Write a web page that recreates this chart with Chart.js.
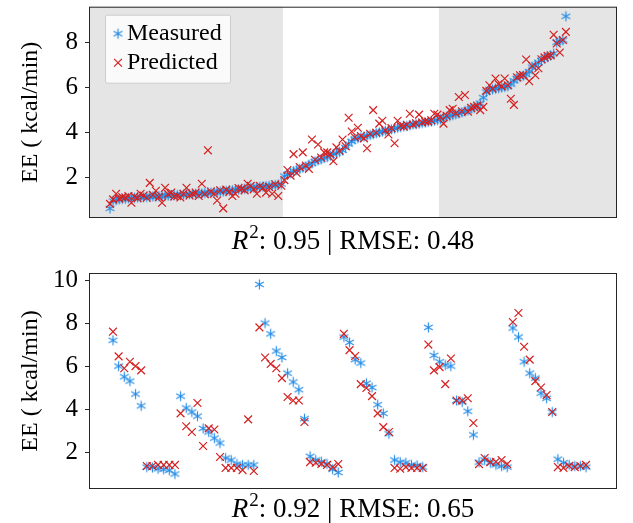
<!DOCTYPE html>
<html>
<head>
<meta charset="utf-8">
<script src="https://cdn.jsdelivr.net/npm/chart.js@4/dist/chart.umd.min.js"></script>
<style>
  html, body { margin: 0; padding: 0; background: #fff; }
  #wrap { position: relative; width: 633px; height: 523px; }
  canvas { position: absolute; left: 0; }
  #top-chart { top: 0; }
  #bottom-chart { top: 262px; }
</style>
</head>
<body>
<div id="wrap">
  <canvas id="top-chart" width="633" height="262"></canvas>
  <canvas id="bottom-chart" width="633" height="261"></canvas>
</div>
<script>
// top panel: samples sorted by measured EE
const topMeasured = [
  0.65, 0.98, 1.02, 1.05, 1.07, 1.08, 1.10, 1.10, 1.12, 1.13,
  1.14, 1.15, 1.16, 1.17, 1.18, 1.18, 1.19, 1.20, 1.21, 1.22,
  1.22, 1.23, 1.24, 1.25, 1.26, 1.27, 1.28, 1.29, 1.30, 1.31,
  1.32, 1.33, 1.34, 1.35, 1.36, 1.38, 1.39, 1.40, 1.42, 1.43,
  1.45, 1.47, 1.49, 1.51, 1.52, 1.54, 1.56, 1.57, 1.59, 1.60,
  1.62, 1.63, 1.65, 1.66, 1.68, 1.70, 1.73, 2.08, 2.15, 2.22,
  2.30, 2.35, 2.40, 2.45, 2.50, 2.58, 2.65, 2.72, 2.78, 2.82,
  2.88, 2.92, 2.98, 3.05, 3.10, 3.15, 3.22, 3.35, 3.50, 3.62,
  3.72, 3.76, 3.80, 3.83, 3.86, 3.90, 3.94, 3.98, 4.02, 4.05,
  4.08, 4.12, 4.15, 4.18, 4.22, 4.25, 4.28, 4.30, 4.33, 4.36,
  4.38, 4.40, 4.43, 4.45, 4.48, 4.50, 4.53, 4.56, 4.60, 4.65,
  4.70, 4.74, 4.78, 4.82, 4.86, 4.90, 4.95, 5.00, 5.05, 5.10,
  5.18, 5.30, 5.55, 5.80, 5.90, 5.92, 5.95, 5.97, 6.00, 6.03,
  6.06, 6.15, 6.30, 6.40, 6.48, 6.52, 6.58, 6.70, 6.90, 7.00,
  7.10, 7.20, 7.28, 7.35, 7.42, 7.50, 8.00, 8.05, 8.10, 9.15
];
const topPredicted = [
  0.85, 1.05, 1.30, 1.08, 1.15, 1.13, 1.20, 0.90, 1.18, 1.10,
  1.30, 1.22, 1.12, 1.78, 1.25, 1.43, 1.15, 0.90, 1.56, 1.28,
  1.35, 1.18, 1.20, 1.13, 1.30, 1.56, 1.22, 1.30, 1.35, 1.20,
  1.74, 1.28, 3.22, 1.40, 1.30, 1.00, 1.45, 0.65, 1.48, 1.38,
  1.20, 1.30, 1.55, 1.52, 1.45, 1.74, 1.65, 1.50, 1.30, 1.64,
  1.56, 1.35, 1.60, 1.30, 1.72, 1.20, 1.65, 1.90, 2.35, 2.10,
  3.05, 2.22, 2.48, 3.13, 2.55, 2.40, 3.70, 2.80, 3.48, 2.90,
  3.13, 3.13, 3.05, 2.74, 3.35, 3.20, 3.70, 3.40, 4.66, 4.05,
  3.80, 4.22, 3.85, 3.75, 3.31, 3.95, 5.00, 4.00, 4.40, 4.53,
  4.10, 3.92, 4.20, 3.53, 4.53, 4.30, 4.27, 4.35, 4.84, 4.36,
  4.42, 4.80, 4.45, 4.50, 4.49, 4.55, 4.84, 4.80, 4.70, 4.40,
  4.75, 5.00, 5.06, 4.85, 5.58, 4.95, 5.67, 4.93, 5.10, 5.14,
  5.20, 5.00, 5.14, 5.85, 6.10, 5.95, 6.40, 6.15, 6.05, 6.40,
  6.10, 5.50, 5.23, 6.45, 6.54, 6.55, 7.24, 6.28, 6.95, 6.54,
  6.85, 7.25, 7.33, 7.40, 7.42, 8.33, 7.95, 7.55, 8.10, 8.46
];
// shaded index ranges in the top panel
const topBands = [[-10, 56.5], [107.5, 170]];

// bottom panel: samples in recording order
const bottomMeasured = [
  7.20, 6.00, 5.50, 5.30, 4.70, 4.15,
  1.30, 1.28, 1.22, 1.20, 1.15, 0.98,
  4.60, 4.05, 3.86, 3.67, 3.10, 2.93, 2.65, 2.42,
  1.72, 1.63, 1.44, 1.40, 1.40, 1.40,
  9.80, 8.00, 7.50, 6.70, 6.40, 5.67, 5.26, 4.90, 3.55,
  1.80, 1.63, 1.55, 1.45, 1.20, 1.05,
  7.35, 7.10, 6.30, 6.14, 5.20, 5.00, 4.20, 3.80, 2.85,
  1.63, 1.53, 1.50, 1.40, 1.38, 1.30,
  7.80, 6.50, 6.20, 6.05, 6.00, 4.40, 4.33, 3.90, 2.80,
  1.53, 1.63, 1.50, 1.40, 1.35, 1.30,
  7.77, 7.35, 6.20, 5.67, 5.44, 4.74, 4.50, 3.86,
  1.67, 1.50, 1.40, 1.35, 1.35, 1.30
];
const bottomPredicted = [
  7.60, 6.45, 5.90, 6.20, 6.00, 5.80,
  1.35, 1.35, 1.40, 1.40, 1.40, 1.40,
  3.80, 3.20, 2.93, 4.28, 2.28, 3.10, 3.05, 1.77,
  1.26, 1.26, 1.26, 1.16, 3.52, 1.12,
  7.80, 6.40, 6.10, 5.90, 5.44, 4.56, 4.40, 4.40, 3.40,
  1.53, 1.50, 1.45, 1.40, 1.30, 1.44,
  7.50, 6.74, 6.47, 5.16, 4.98, 4.60, 3.80, 3.16, 2.93,
  1.26, 1.22, 1.30, 1.26, 1.26, 1.26,
  7.00, 5.80, 5.95, 5.16, 6.35, 4.40, 4.40, 4.50, 3.35,
  1.44, 1.72, 1.53, 1.55, 1.63, 1.44,
  8.05, 8.47, 6.90, 6.30, 5.30, 5.00, 4.65, 3.86,
  1.30, 1.26, 1.35, 1.30, 1.35, 1.40
];

const yTicks = [2, 4, 6, 8, 10];
const seriesNames = ["Measured", "Predicted"];
const r2Values = [0.95, 0.92];
const rmseValues = [0.48, 0.65];

const FONT = "'Liberation Serif', 'Times New Roman', serif";
const BLUE = "rgba(30, 136, 229, 0.95)";
const RED = "rgb(214, 32, 32)";
const PLOT_LEFT = 89;
const PLOT_RIGHT = 617;

function asteriskImage(color) {
  const c = document.createElement("canvas");
  c.width = 13;
  c.height = 13;
  const g = c.getContext("2d");
  g.strokeStyle = color;
  g.lineWidth = 1.2;
  g.translate(6.5, 6.5);
  for (let k = 0; k < 3; k++) {
    const a = Math.PI / 2 + (k * Math.PI) / 3;
    g.beginPath();
    g.moveTo(Math.cos(a) * 5, Math.sin(a) * 5);
    g.lineTo(-Math.cos(a) * 5, -Math.sin(a) * 5);
    g.stroke();
  }
  return c;
}
const asterisk = asteriskImage(BLUE);

function drawCross(ctx, x, y) {
  ctx.strokeStyle = RED;
  ctx.lineWidth = 1.2;
  ctx.beginPath();
  ctx.moveTo(x - 3.9, y - 3.9);
  ctx.lineTo(x + 3.9, y + 3.9);
  ctx.moveTo(x + 3.9, y - 3.9);
  ctx.lineTo(x - 3.9, y + 3.9);
  ctx.stroke();
}

function drawStatLabel(ctx, cx, baseline, r2, rmse) {
  const size = 27;
  const italic = `italic ${size}px ${FONT}`;
  const normal = `${size}px ${FONT}`;
  const sup = `${Math.round(size * 0.7)}px ${FONT}`;
  const rest = `: ${r2.toFixed(2)} | RMSE: ${rmse.toFixed(2)}`;
  ctx.font = italic;
  const wR = ctx.measureText("R").width;
  ctx.font = sup;
  const w2 = ctx.measureText("2").width;
  ctx.font = normal;
  const wRest = ctx.measureText(rest).width;
  let x = cx - (wR + w2 + 1 + wRest) / 2;
  ctx.fillStyle = "#000";
  ctx.textAlign = "left";
  ctx.textBaseline = "alphabetic";
  ctx.font = italic;
  ctx.fillText("R", x, baseline);
  x += wR + 1;
  ctx.font = sup;
  ctx.fillText("2", x, baseline - size * 0.4);
  x += w2;
  ctx.font = normal;
  ctx.fillText(rest, x, baseline);
}

const panelDecor = {
  id: "panelDecor",
  beforeDatasetsDraw(chart, args, opts) {
    const { ctx, chartArea: a, scales: { x } } = chart;
    ctx.save();
    ctx.fillStyle = "#e5e5e5";
    (opts.bands || []).forEach(([from, to]) => {
      const l = Math.max(x.getPixelForValue(from), a.left);
      const r = Math.min(x.getPixelForValue(to), a.right);
      ctx.fillRect(l, a.top, r - l, a.bottom - a.top);
    });
    ctx.restore();
  },
  afterDatasetsDraw(chart, args, opts) {
    const { ctx, chartArea: a } = chart;
    ctx.save();
    if (opts.legend) {
      const lx = a.left + 16, ly = a.top + 8;
      ctx.fillStyle = "rgba(255, 255, 255, 0.8)";
      ctx.strokeStyle = "#cccccc";
      ctx.lineWidth = 1;
      ctx.beginPath();
      ctx.roundRect(lx + 0.5, ly + 0.5, 125, 68, 2);
      ctx.fill();
      ctx.stroke();
      ctx.drawImage(asterisk, lx + 13 - 6.5, ly + 19 - 6.5);
      drawCross(ctx, lx + 13, ly + 48);
      ctx.fillStyle = "#000";
      ctx.font = `24px ${FONT}`;
      ctx.textBaseline = "middle";
      ctx.fillText(seriesNames[0], lx + 22, ly + 19);
      ctx.fillText(seriesNames[1], lx + 22, ly + 48);
    }
    ctx.strokeStyle = "#262626";
    ctx.lineWidth = 1;
    ctx.strokeRect(a.left + 0.5, a.top + 0.5, a.right - a.left - 1, a.bottom - a.top - 1);
    drawStatLabel(ctx, (a.left + a.right) / 2, a.bottom + opts.labelGap, opts.r2, opts.rmse);
    ctx.restore();
  },
};

function makePanel(canvasId, measured, predicted, xRange, yRange, pad, decor) {
  const toPoints = (arr) => arr.map((v, i) => ({ x: i, y: v }));
  return new Chart(document.getElementById(canvasId), {
    type: "scatter",
    data: {
      datasets: [
        {
          label: seriesNames[1],
          data: toPoints(predicted),
          pointStyle: "crossRot",
          pointRadius: 5.5,
          pointBorderWidth: 1.2,
          borderColor: RED,
          backgroundColor: RED,
        },
        {
          label: seriesNames[0],
          data: toPoints(measured),
          pointStyle: asterisk,
          pointRadius: 5,
          borderColor: BLUE,
          backgroundColor: BLUE,
        },
      ],
    },
    options: {
      responsive: false,
      animation: false,
      events: [],
      layout: { padding: { left: 0, right: 633 - PLOT_RIGHT, top: pad[0], bottom: pad[1] } },
      plugins: {
        legend: { display: false },
        tooltip: { enabled: false },
        panelDecor: decor,
      },
      scales: {
        x: { type: "linear", display: false, min: xRange[0], max: xRange[1] },
        y: {
          min: yRange[0],
          max: yRange[1],
          afterBuildTicks: (scale) => {
            scale.ticks = yTicks.filter((v) => v <= yRange[1]).map((v) => ({ value: v }));
          },
          afterFit: (scale) => {
            scale.width = PLOT_LEFT;
            scale.paddingTop = 0;
            scale.paddingBottom = 0;
          },
          border: { display: false },
          grid: { drawOnChartArea: false, drawTicks: true, tickLength: 4, tickColor: "#262626" },
          ticks: { color: "#000", padding: 7, font: { family: FONT, size: 25 } },
          title: {
            display: true,
            text: "EE ( kcal/min)",
            color: "#000",
            padding: { top: 16, bottom: 0 },
            font: { family: FONT, size: 24 },
          },
        },
      },
    },
    plugins: [panelDecor],
  });
}

makePanel("top-chart", topMeasured, topPredicted, [-6.86, 165.7], [0.225, 9.575], [4, 44], {
  bands: topBands,
  legend: true,
  r2: r2Values[0],
  rmse: rmseValues[0],
  labelGap: 31,
});
makePanel("bottom-chart", bottomMeasured, bottomPredicted, [-4.26, 89.5], [0.28, 10.33], [11, 34], {
  bands: [],
  legend: false,
  r2: r2Values[1],
  rmse: rmseValues[1],
  labelGap: 28,
});
</script>
</body>
</html>
